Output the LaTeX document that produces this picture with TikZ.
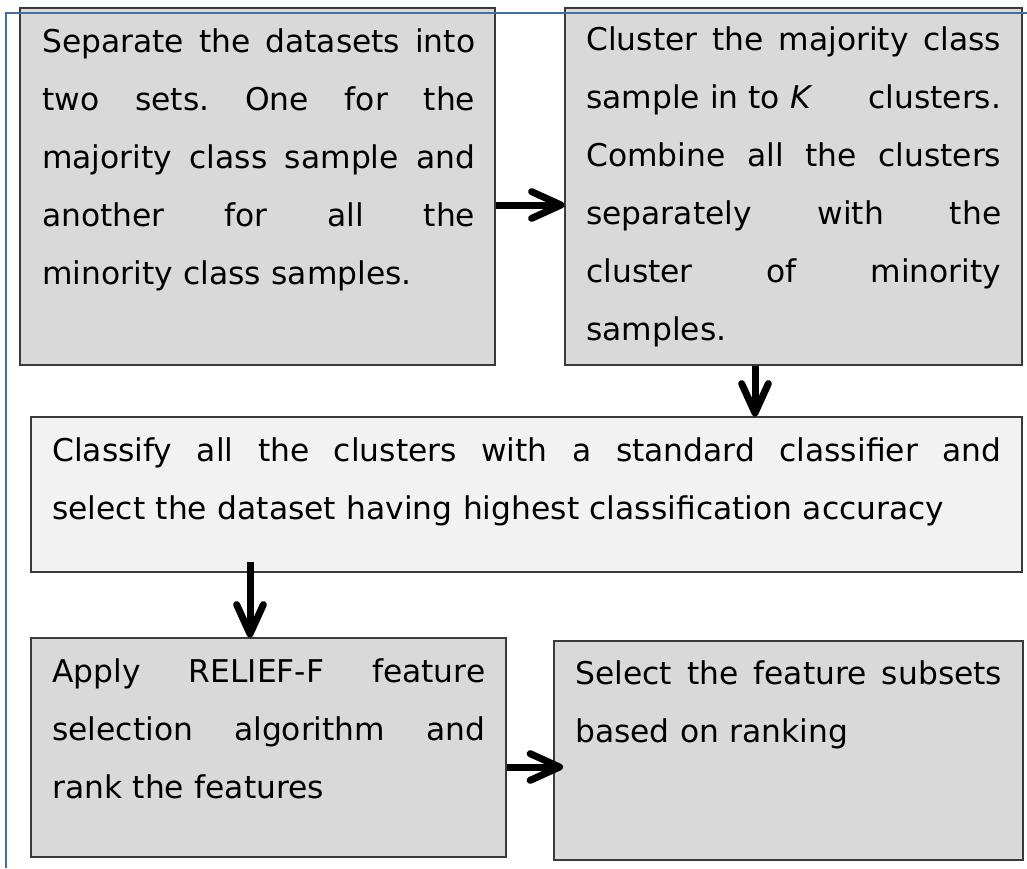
\documentclass[tikz,border=0pt]{standalone}
\usepackage{fontspec}
\setmainfont{DejaVu Sans}
\usetikzlibrary{arrows.meta,fit}

% one full-width justified line of a box text
\newcommand\jline[1]{\makebox[\linewidth][s]{\spaceskip=0pt\xspaceskip=0pt #1}\par}
% first-line strut: baseline 44px below the box top
\newcommand\firststrut{\rule{0pt}{33pt}}

\definecolor{boxgray}{HTML}{D9D9D9}
\definecolor{boxlight}{HTML}{F2F2F2}
\definecolor{boxedge}{HTML}{3A3A3A}
\definecolor{framblue}{RGB}{68,110,160}

\tikzset{
  stepbox/.style={draw=boxedge, line width=0.8pt, fill=boxgray, inner sep=0pt},
  lightbox/.style={stepbox, fill=boxlight},
  txt/.style={anchor=north west, inner sep=0pt,
    font=\fontsize{23.5pt}{43.5pt}\selectfont\frenchspacing},
  arr/.style={line width=5.25pt,
    -{Straight Barb[length=22pt,width=20pt,round]}},
  frameline/.style={draw=framblue, line width=1pt}
}

\begin{document}
\begin{tikzpicture}[x=0.75pt,y=-0.75pt]
\useasboundingbox (0,0) rectangle (1027,868);

% boxes
\node[stepbox,  fit={(20,8) (495,365)}]   (b1) {};
\node[stepbox,  fit={(565,8) (1022,365)}] (b2) {};
\node[lightbox, fit={(31,417) (1022,572)}] (b3) {};
\node[stepbox,  fit={(31,638) (506,857)}] (b4) {};
\node[stepbox,  fit={(554,641) (1023,860)}] (b5) {};

% box texts
\node[txt, text width=324.75pt] (t1) at (42,8) {%
  \firststrut\jline{Separate the datasets into}%
  \jline{two sets. One for the}%
  \jline{majority class sample and}%
  \jline{another for all the}%
  minority class samples.};

\node[txt, text width=311.25pt] (t2) at (586,6) {%
  \firststrut\jline{Cluster the majority class}%
  \jline{sample in to \textit{K}\hfill clusters.}%
  \jline{Combine all the clusters}%
  \jline{separately with the}%
  \jline{cluster of minority}%
  samples.};

\node[txt, text width=711.75pt] (t3) at (52,417) {%
  \firststrut\jline{Classify all the clusters with a standard classifier and}%
  select the dataset having highest classification accuracy};

\node[txt, text width=324.75pt] (t4) at (52,638) {%
  \firststrut\jline{Apply RELIEF-F feature}%
  \jline{selection algorithm and}%
  rank the features};

\node[txt, text width=320.25pt] (t5) at (575,640) {%
  \firststrut\jline{Select the feature subsets}%
  based on ranking};

% connectors
\coordinate (r1) at (0,205);
\coordinate (c2) at (755,0);
\coordinate (s3) at (250,562);
\coordinate (e4) at (563,767);

\draw[arr] (b1.east |- r1) -- (b2.west |- r1);
\draw[arr] (b2.south -| c2) -- (b3.north -| c2);
\draw[arr] (s3) -- (b4.north -| s3);
\draw[arr] (b4.east |- e4) -- (e4);

% outer frame (top and left edges)
\coordinate (f1) at (1027,13);
\coordinate (f2) at (6,13);
\coordinate (f3) at (6,868);
\draw[frameline] (f1) -- (f2) -- (f3);
\end{tikzpicture}
\end{document}
